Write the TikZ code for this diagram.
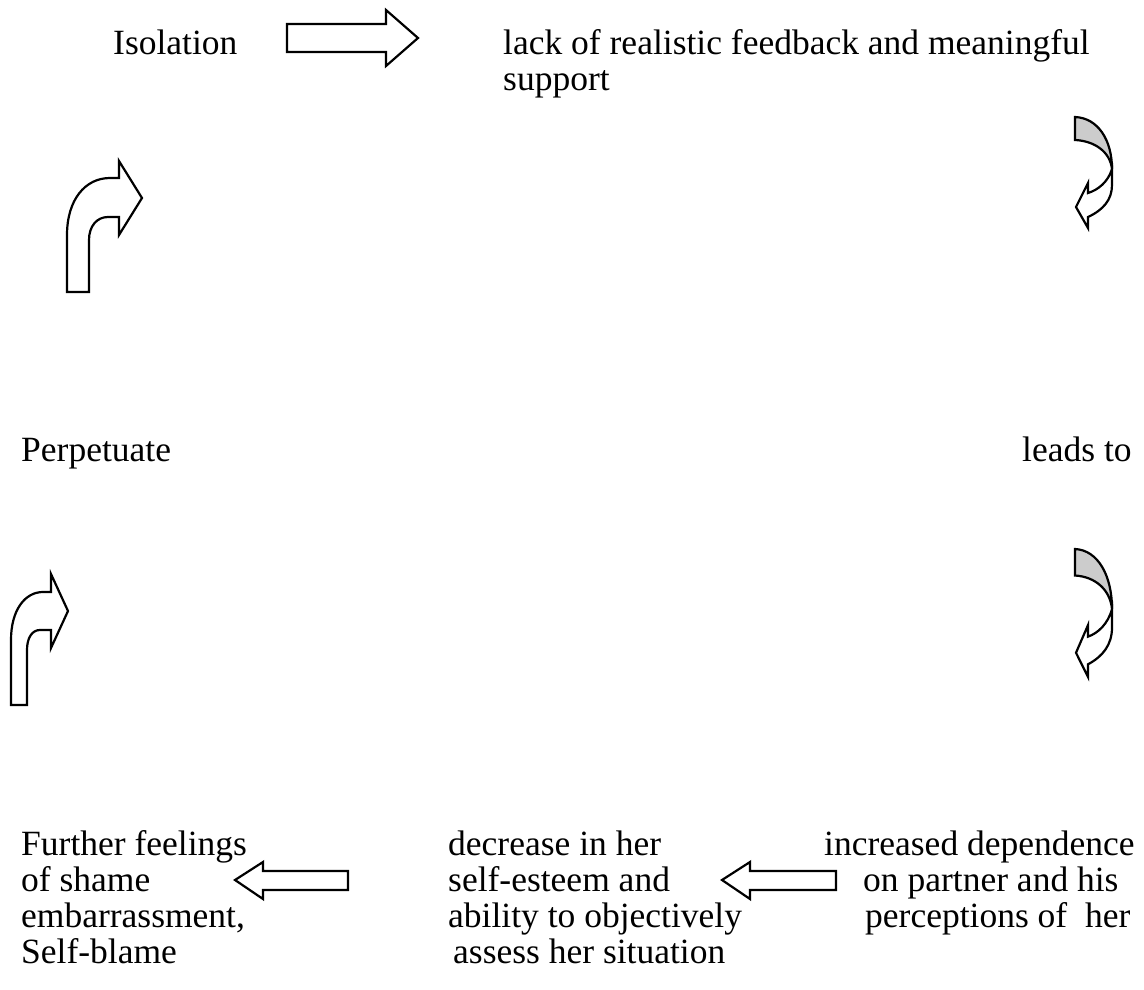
\documentclass[tikz,border=0pt]{standalone}
\usepackage{fontspec}
\setmainfont{Liberation Serif}

\tikzset{
    cyclelabel/.style={anchor=base west, inner sep=0pt, align=left,
        font=\fontsize{35.5}{36}\selectfont},
    blockarrow/.style={draw, line width=2.2pt, fill=white, line join=miter},
    shadearrow/.style={blockarrow, fill=black!20},
}

% curled arrow pointing down and left, origin at top left of grey band
\newcommand\curldown{%
    \draw[shadearrow] (0, 0) -- (0, 23)
        .. controls (20, 24) and (35, 35) .. (37, 52)
        .. controls (37, 23) and (23, 1) .. (0, 0) -- cycle;
    \draw[blockarrow] (37, 52)
        .. controls (33, 65) and (23, 73) .. (13, 76) -- (13, 66) --
        (1, 90) -- (13, 111) -- (13, 100)
        .. controls (28, 93) and (37, 83) .. (37, 68) -- cycle;
}

\begin{document}
\begin{tikzpicture}[x=1pt, y=-1pt]
        \pgfmathsetmacro\topy{55}
        \pgfmathsetmacro\midy{461}
        \pgfmathsetmacro\lowy{855}
        \pgfmathsetmacro\rowh{36}

        \path[use as bounding box, fill=white] (0, 0) rectangle (1144, 990);

        % top row (multi-line labels sit on their last line)
        \node[cyclelabel] (isolation) at (113, \topy) {Isolation};
        \node[cyclelabel] (feedback) at (503, \topy + \rowh)
            {lack of realistic feedback and meaningful\\support};
        \draw[blockarrow] (287, 24) -- (386, 24) -- (386, 10) --
            (418, 38) -- (386, 66) -- (386, 52) -- (287, 52) -- cycle;

        % right side
        \begin{scope}[shift={(1075, 117)}]
            \curldown
        \end{scope}
        \node[cyclelabel] (leads) at (1022, \midy) {leads to};
        \begin{scope}[shift={(1075, 549)}, yscale=1.153]
            \curldown
        \end{scope}

        % bottom row
        \node[cyclelabel] (dependence) at (824, \lowy + 2 * \rowh)
            {increased dependence\\\hspace*{39pt}on partner and his\\
            \hspace*{41pt}perceptions of\ \ her};
        \draw[blockarrow] (836, 871) -- (750, 871) -- (750, 862) --
            (722, 880) -- (750, 899) -- (750, 890) -- (836, 890) -- cycle;
        \node[cyclelabel] (esteem) at (448, \lowy + 3 * \rowh)
            {decrease in her\\self-esteem and\\ability to objectively\\
            \hspace*{5pt}assess her situation};
        \draw[blockarrow] (348, 871) -- (263, 871) -- (263, 862) --
            (235, 880) -- (263, 899) -- (263, 890) -- (348, 890) -- cycle;
        \node[cyclelabel] (shame) at (21, \lowy + 3 * \rowh)
            {Further feelings\\of shame\\embarrassment,\\Self-blame};

        % left side
        \draw[blockarrow] (11, 705) -- (11, 640)
            .. controls (11, 610) and (25, 592) .. (43, 592) --
            (51, 592) -- (51, 574) -- (68, 611) -- (51, 648) -- (51, 630) --
            (40, 630) .. controls (32, 630) and (27, 638) .. (27, 650) --
            (27, 705) -- cycle;
        \node[cyclelabel] (perpetuate) at (21, \midy) {Perpetuate};
        \draw[blockarrow] (67, 292) -- (67, 235)
            .. controls (67, 200) and (85, 178) .. (110, 178) --
            (119, 178) -- (119, 161) -- (142, 198) -- (119, 235) --
            (119, 217) -- (108, 217)
            .. controls (97, 217) and (89, 226) .. (89, 240) --
            (89, 292) -- cycle;
    \end{tikzpicture}
\end{document}
